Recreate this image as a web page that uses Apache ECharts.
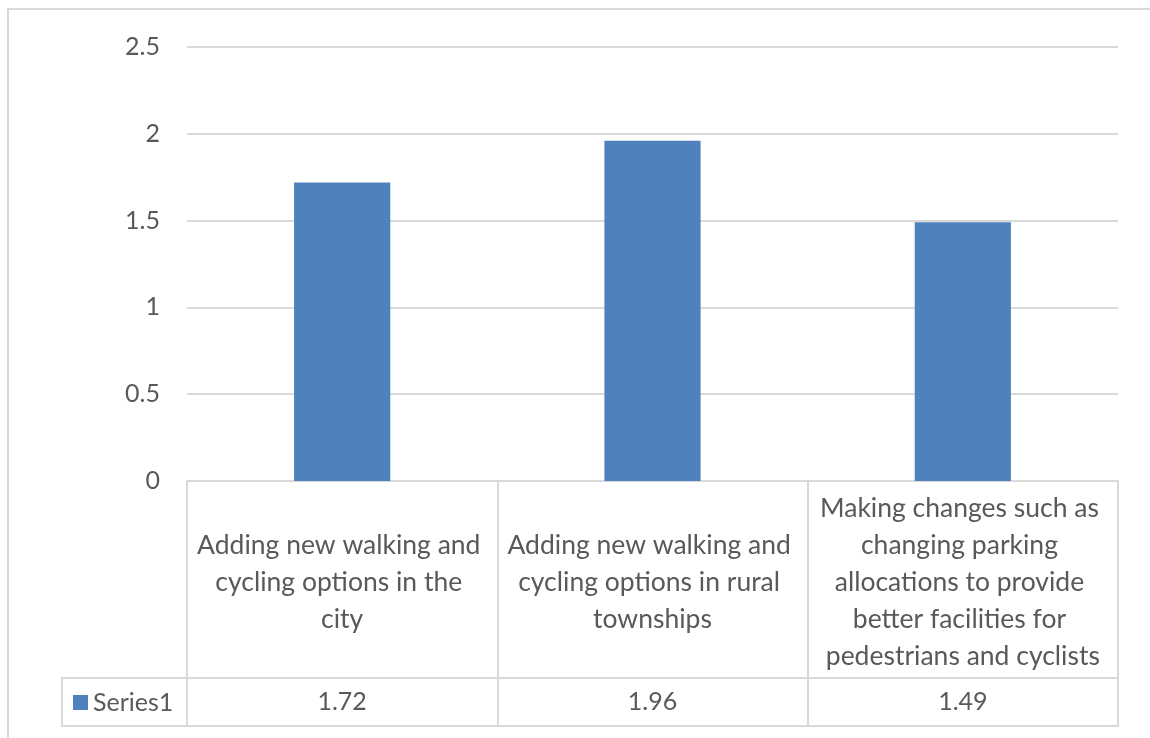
<!DOCTYPE html>
<html>
<head>
<meta charset="utf-8">
<script src="https://cdn.jsdelivr.net/npm/echarts@6/dist/echarts.min.js"></script>
<style>
  html, body { margin: 0; padding: 0; background: #ffffff; }
  #chart { width: 1150px; height: 738px; }
</style>
</head>
<body>
<div id="chart"></div>
<script>
// Survey items and their mean scores
const categories = [
  'Adding new walking and cycling options in the city',
  'Adding new walking and cycling options in rural townships',
  'Making changes such as changing parking allocations to provide better facilities for pedestrians and cyclists'
];
const seriesName = 'Series1';
const values = [1.72, 1.96, 1.49];
const yTicks = { min: 0, max: 2.5, step: 0.5 };

const FONT = 'Lato, "Noto Sans", sans-serif';
const TEXT = '#595959';
const RULE = '#d9d9d9';
const BLUE = '#4f81bd';

const chart = echarts.init(document.getElementById('chart'), null, { renderer: 'canvas' });

// Table geometry (data-table under the plot)
const gridLeft = 187, gridRight = 32, gridTop = 47, gridBottom = 257;
const axisY = 738 - gridBottom;          // y of the value 0 line
const rowSplitY = 678;                   // between category row and value row
const tableBottomY = 726;
const tableLeftX = 62;

chart.setOption({
  animation: false,
  backgroundColor: '#ffffff',
  textStyle: { fontFamily: FONT },
  grid: { left: gridLeft, right: gridRight, top: gridTop, bottom: gridBottom },
  legend: {
    show: true,
    data: [seriesName],
    left: 73,
    top: 690,
    padding: 0,
    icon: 'rect',
    itemWidth: 15,
    itemHeight: 15,
    selectedMode: false,
    textStyle: { color: TEXT, fontSize: 25, fontFamily: FONT }
  },
  xAxis: [
    {
      type: 'category',
      data: categories,
      position: 'bottom',
      axisLine: { show: true, lineStyle: { color: RULE, width: 2 } },
      axisTick: { show: true, alignWithLabel: false, length: tableBottomY - axisY, lineStyle: { color: RULE, width: 2 } },
      axisLabel: {
        interval: 0,
        color: TEXT,
        fontSize: 26.5,
        fontFamily: FONT,
        lineHeight: 37,
        width: 292,
        overflow: 'break',
        align: 'center',
        verticalAlign: 'middle',
        margin: 101
      }
    },
    {
      type: 'category',
      data: values.map(v => v.toFixed(2)),
      position: 'bottom',
      offset: rowSplitY - axisY,
      axisLine: { show: true, lineStyle: { color: RULE, width: 2 } },
      axisTick: { show: false },
      axisLabel: {
        interval: 0,
        color: TEXT,
        fontSize: 25,
        fontFamily: FONT,
        verticalAlign: 'middle',
        margin: 24
      }
    }
  ],
  yAxis: {
    type: 'value',
    min: yTicks.min,
    max: yTicks.max,
    interval: yTicks.step,
    axisLine: { show: false },
    axisTick: { show: false },
    splitLine: { show: true, lineStyle: { color: RULE, width: 2 } },
    axisLabel: { color: TEXT, fontSize: 25, fontFamily: FONT, margin: 27 }
  },
  series: [
    {
      name: seriesName,
      type: 'bar',
      xAxisIndex: 0,
      data: values,
      barWidth: '31%',
      itemStyle: { color: BLUE }
    }
  ],
  graphic: [
    // outer chart frame
    { type: 'rect', shape: { x: 8, y: 9, width: 1300, height: 900 }, style: { fill: null, stroke: RULE, lineWidth: 2 }, silent: true },
    // legend cell of the data table
    { type: 'line', shape: { x1: tableLeftX, y1: rowSplitY, x2: gridLeft, y2: rowSplitY }, style: { stroke: RULE, lineWidth: 2 }, silent: true },
    { type: 'line', shape: { x1: tableLeftX, y1: rowSplitY - 1, x2: tableLeftX, y2: tableBottomY + 1 }, style: { stroke: RULE, lineWidth: 2 }, silent: true },
    { type: 'line', shape: { x1: tableLeftX, y1: tableBottomY, x2: 1150 - gridRight + 1, y2: tableBottomY }, style: { stroke: RULE, lineWidth: 2 }, silent: true }
  ]
});
</script>
</body>
</html>
